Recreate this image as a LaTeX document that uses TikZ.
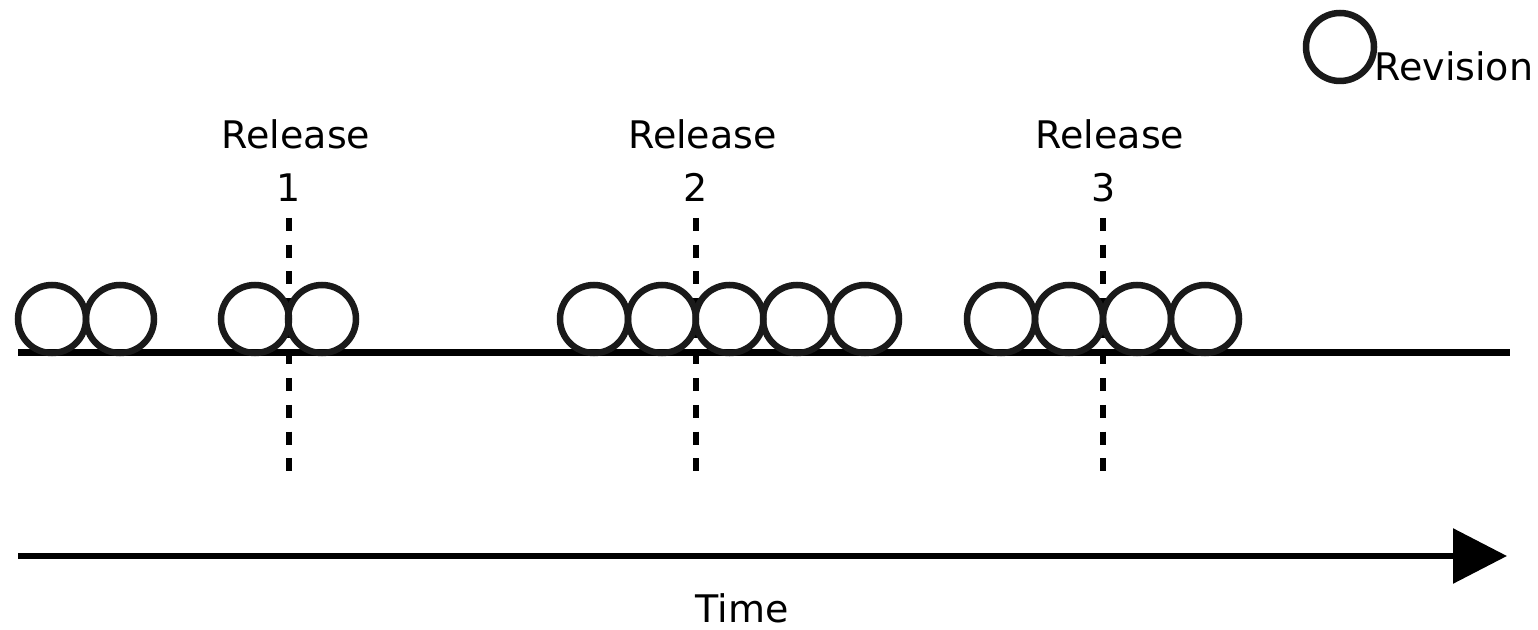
\documentclass[tikz,border=0pt]{standalone}
\usepackage{fontspec}
\setmainfont{DejaVu Sans}
\usetikzlibrary{arrows.meta}
\definecolor{revstroke}{RGB}{26,26,26}
\tikzset{
  rev/.style={circle, draw=revstroke, line width=3.25pt, minimum size=34pt, inner sep=0pt},
  lbl/.style={inner sep=0pt, anchor=base, font=\fontsize{19pt}{22pt}\selectfont},
  releaseline/.style={line width=3pt, dash pattern=on 6.5pt off 6.85pt},
  axis/.style={line width=3.25pt},
  timearrow/.style={line width=3pt, -{Triangle[length=27pt,width=27pt]}}
}
\begin{document}
\begin{tikzpicture}[x=0.5pt,y=-0.5pt]
\useasboundingbox (0,0) rectangle (1538,630);

% release markers
\coordinate (r1t) at (289,218); \coordinate (r1b) at (289,474);
\coordinate (r2t) at (695.5,218); \coordinate (r2b) at (695.5,474);
\coordinate (r3t) at (1102.5,218); \coordinate (r3b) at (1102.5,474);
\draw[releaseline] (r1t) -- (r1b);
\draw[releaseline] (r2t) -- (r2b);
\draw[releaseline] (r3t) -- (r3b);

\node[lbl] (rel1) at (296,149) {Release};
\node[lbl] (num1) at (289,202) {1};
\node[lbl] (rel2) at (702.5,149) {Release};
\node[lbl] (num2) at (696,202) {2};
\node[lbl] (rel3) at (1110,149) {Release};
\node[lbl] (num3) at (1104,202) {3};

% revision line
\coordinate (axL) at (18,352.5);
\coordinate (axR) at (1510,352.5);
\draw[axis] (axL) -- (axR);

% revisions
\node[rev] (c1)  at (52,319) {};
\node[rev] (c2)  at (120,319) {};
\node[rev] (c3)  at (255,319) {};
\node[rev] (c4)  at (322,319) {};
\node[rev] (c5)  at (594,319) {};
\node[rev] (c6)  at (662,319) {};
\node[rev] (c7)  at (729.5,319) {};
\node[rev] (c8)  at (797,319) {};
\node[rev] (c9)  at (865,319) {};
\node[rev] (c10) at (1001,319) {};
\node[rev] (c11) at (1069,319) {};
\node[rev] (c12) at (1137,319) {};
\node[rev] (c13) at (1205,319) {};

% legend
\node[rev] (legend) at (1340,47) {};
\node[lbl, anchor=base west] (legendtxt) at (1374,81) {Revision};

% time axis
\coordinate (tL) at (18,556);
\coordinate (tR) at (1507,556);
\draw[timearrow] (tL) -- (tR);
\node[lbl] (time) at (742,623) {Time};
\end{tikzpicture}
\end{document}
